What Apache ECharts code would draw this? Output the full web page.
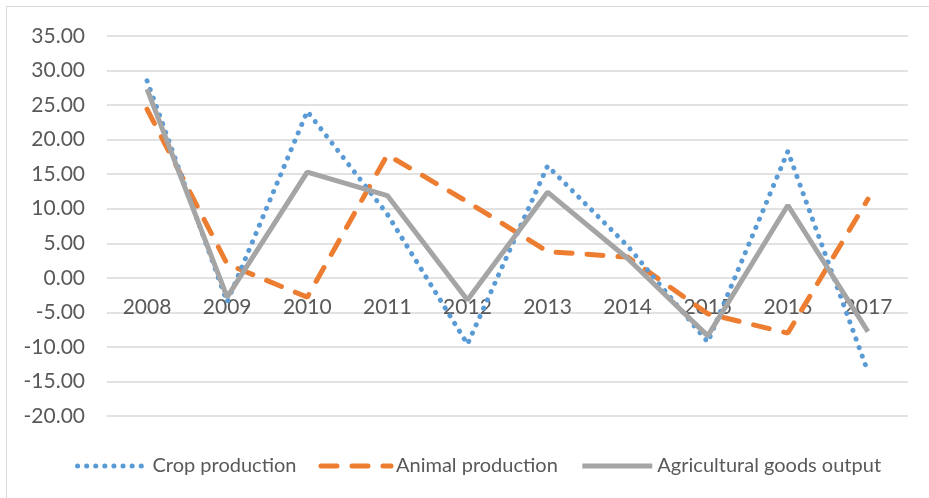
<!DOCTYPE html>
<html>
<head>
<meta charset="utf-8">
<script src="https://cdn.jsdelivr.net/npm/echarts@6/dist/echarts.min.js"></script>
<style>
  html, body { margin: 0; padding: 0; background: #fff; }
  #frame { position: absolute; left: 6px; top: 6px; width: 930px; height: 500px; border: 1.5px solid #d9d9d9; box-sizing: border-box; }
  #main { position: absolute; left: 0; top: 0; width: 929px; height: 498px; }
</style>
</head>
<body>
<div id="frame"></div>
<div id="main"></div>
<script>
// years on the category axis
var years = ['2008', '2009', '2010', '2011', '2012', '2013', '2014', '2015', '2016', '2017'];
// growth rates (%)
var cropProduction = [28.5, -3.5, 24.1, 9.2, -9.6, 16.2, 4.6, -9.3, 18.3, -13.6];
var animalProduction = [24.4, 2.0, -2.8, 17.8, 11.0, 3.8, 3.0, -5.2, -8.0, 11.4];
var agriculturalOutput = [27.3, -2.8, 15.3, 11.9, -3.2, 12.4, 2.8, -8.4, 10.5, -7.8];

var yMin = -20, yMax = 35, yStep = 5;
var textColor = '#595959';
var font = 'Lato';

var gridTop = 36, gridBottom = 82;
var plotHeight = 498 - gridTop - gridBottom;
// put the category labels at the zero line, like the original
var xOffset = -plotHeight * (0 - yMin) / (yMax - yMin);

var myChart = echarts.init(document.getElementById('main'));
var option = {
    animation: false,
    textStyle: { fontFamily: font },
    grid: { left: 107, right: 21, top: gridTop, bottom: gridBottom },
    legend: {
        bottom: 17,
        left: 70,
        itemWidth: 70,
        itemHeight: 14,
        itemGap: 22,
        itemStyle: { opacity: 0 },
        lineStyle: { width: 5 },
        textStyle: { color: textColor, fontSize: 20, fontFamily: font },
        data: ['Crop production', 'Animal production', 'Agricultural goods output']
    },
    xAxis: {
        type: 'category',
        data: years,
        position: 'bottom',
        offset: xOffset,
        z: 0,
        axisLine: { show: false },
        axisTick: { show: false },
        axisLabel: { color: textColor, fontSize: 21, margin: 19, fontFamily: font }
    },
    yAxis: {
        type: 'value',
        min: yMin,
        max: yMax,
        interval: yStep,
        axisLine: { show: false },
        axisTick: { show: false },
        axisLabel: {
            color: textColor, fontSize: 21, margin: 22, fontFamily: font,
            formatter: function (v) { return v.toFixed(2); }
        },
        splitLine: { lineStyle: { color: '#d9d9d9', width: 1.5 } }
    },
    series: [{
        name: 'Crop production',
        type: 'line',
        data: cropProduction,
        showSymbol: false,
        symbol: 'none',
        z: 3,
        lineStyle: { color: '#5B9BD5', width: 5, type: [0.1, 9], cap: 'round' },
        itemStyle: { color: '#5B9BD5' }
    }, {
        name: 'Animal production',
        type: 'line',
        data: animalProduction,
        showSymbol: false,
        symbol: 'none',
        z: 2,
        lineStyle: { color: '#ED7D31', width: 5, type: [16, 15], cap: 'round' },
        itemStyle: { color: '#ED7D31' }
    }, {
        name: 'Agricultural goods output',
        type: 'line',
        data: agriculturalOutput,
        showSymbol: false,
        symbol: 'none',
        z: 4,
        lineStyle: { color: '#A5A5A5', width: 5 },
        itemStyle: { color: '#A5A5A5' }
    }]
};
myChart.setOption(option);
</script>
</body>
</html>
